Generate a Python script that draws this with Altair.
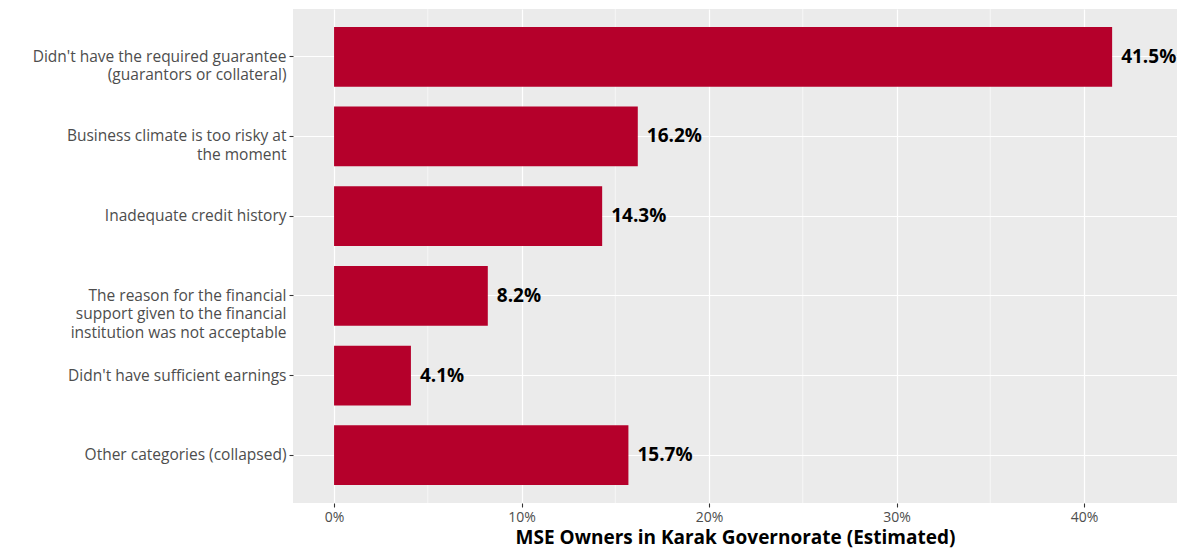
import altair as alt
import pandas as pd

categories = [
    "Didn't have the required guarantee\n(guarantors or collateral)",
    "Business climate is too risky at\nthe moment",
    "Inadequate credit history",
    "The reason for the financial\nsupport given to the financial\ninstitution was not acceptable",
    "Didn't have sufficient earnings",
    "Other categories (collapsed)",
]
values = [41.5, 16.2, 14.3, 8.2, 4.1, 15.7]
labels = ["41.5%", "16.2%", "14.3%", "8.2%", "4.1%", "15.7%"]
major_ticks = [0, 10, 20, 30, 40]
minor_ticks = [5, 15, 25, 35, 45]

df = pd.DataFrame({"cat": categories, "val": values, "lab": labels})
minor_df = pd.DataFrame({"m": minor_ticks})

FONT = "Open Sans"
x_scale = alt.Scale(domain=[-2.19, 44.96], nice=False, zero=False)
y_scale = alt.Scale(domain=categories, paddingInner=0.25, paddingOuter=0.225)

minor = alt.Chart(minor_df).mark_rule(color="white", strokeWidth=0.6).encode(
    x=alt.X("m:Q", scale=x_scale)
)

base = alt.Chart(df)

bars = base.mark_bar(color="#B5002B").encode(
    x=alt.X(
        "val:Q",
        scale=x_scale,
        axis=alt.Axis(
            values=major_ticks,
            labelExpr="datum.value + '%'",
            title="MSE Owners in Karak Governorate (Estimated)",
            grid=True,
            gridColor="white",
            gridWidth=1.2,
            domain=False,
            ticks=True,
            tickSize=4,
            tickColor="#333333",
            tickWidth=1.1,
            labelFont=FONT,
            labelFontSize=14,
            labelColor="#4D4D4D",
            labelPadding=3,
            titleFont=FONT,
            titleFontSize=19,
            titleFontWeight="bold",
            titleColor="black",
            titlePadding=4,
        ),
    ),
    y=alt.Y(
        "cat:N",
        scale=y_scale,
        sort=categories,
        axis=alt.Axis(
            title=None,
            bandPosition=0.5,
            grid=True,
            gridColor="white",
            gridWidth=1.2,
            domain=False,
            ticks=True,
            tickSize=4,
            tickColor="#333333",
            tickWidth=1.1,
            labelExpr="split(datum.label, '\\n')",
            labelFont=FONT,
            labelFontSize=15.5,
            labelColor="#4D4D4D",
            labelLineHeight=18.5,
            labelPadding=3,
            labelLimit=400,
            minExtent=285,
            maxExtent=285,
        ),
    ),
)

text = base.mark_text(
    align="left", baseline="middle", dx=9, font=FONT, fontSize=19,
    fontWeight="bold", color="black"
).encode(
    x=alt.X("val:Q", scale=x_scale),
    y=alt.Y("cat:N", scale=y_scale, sort=categories),
    text="lab:N",
)

chart = (
    alt.layer(minor, bars, text)
    .properties(
        width=884,
        height=494,
        background="white",
        padding={"left": 0, "top": 0, "right": 0, "bottom": 3},
    )
    .configure_view(fill="#EBEBEB", stroke=None)
)

chart.save("out.html", embed_options={"renderer": "svg", "actions": False})
